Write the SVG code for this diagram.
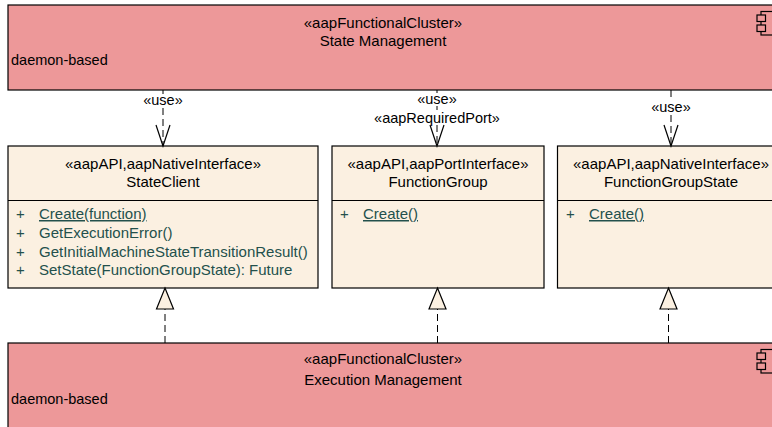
<svg xmlns="http://www.w3.org/2000/svg" width="772" height="427" viewBox="0 0 772 427">
<style>
.cl{fill:#ED9899;stroke:#000;stroke-width:1.2}
.ifc{fill:#FBF0E1;stroke:#000;stroke-width:1.2}
.sep{stroke:#000;stroke-width:1}
text{font-family:"Liberation Sans",Arial,sans-serif;font-size:15px;fill:#000}
.c{text-anchor:middle}
.sm{font-size:14.5px}
.op{fill:#23504C}
.u{text-decoration:underline}
.lbl{font-size:14.5px;text-anchor:middle}
.dash{stroke:#000;stroke-width:1;fill:none;stroke-dasharray:7,4}
.head{stroke:#000;stroke-width:1.2;fill:none}
.tri{fill:#FBF0E1;stroke:#000;stroke-width:1.2}
.icon{fill:#ED9899;stroke:#000;stroke-width:1.2}
</style>
<rect width="772" height="427" fill="#fff"/>
<g id="state-management">
<rect class="cl" x="8" y="5" width="780" height="85"/>
<text class="c" x="383" y="27.5">«aapFunctionalCluster»</text>
<text class="c" x="383" y="45.5">State Management</text>
<text class="sm" x="11" y="65">daemon-based</text>
<rect class="icon" x="761" y="11.5" width="14" height="23.5"/>
<rect class="icon" x="757" y="15" width="8.5" height="6.5"/>
<rect class="icon" x="757" y="25" width="8.5" height="6.5"/>
</g>
<g id="state-client">
<rect class="ifc" x="8" y="146" width="310" height="142"/>
<line class="sep" x1="8" y1="200.5" x2="318" y2="200.5"/>
<text class="c" x="163" y="169">«aapAPI,aapNativeInterface»</text>
<text class="c" x="163" y="187">StateClient</text>
<text class="op" x="16" y="219">+</text><text class="op u" x="39" y="219">Create(function)</text>
<text class="op" x="16" y="238">+</text><text class="op" x="39" y="238">GetExecutionError()</text>
<text class="op" x="16" y="257">+</text><text class="op" x="39" y="257">GetInitialMachineStateTransitionResult()</text>
<text class="op" x="16" y="275">+</text><text class="op" x="39" y="275">SetState(FunctionGroupState): Future</text>
</g>
<g id="function-group">
<rect class="ifc" x="332" y="146" width="212" height="142"/>
<line class="sep" x1="332" y1="200.5" x2="544" y2="200.5"/>
<text class="c" x="438" y="169">«aapAPI,aapPortInterface»</text>
<text class="c" x="438" y="187">FunctionGroup</text>
<text class="op" x="340" y="219">+</text><text class="op u" x="363" y="219">Create()</text>
</g>
<g id="function-group-state">
<rect class="ifc" x="557.5" y="146" width="230" height="142"/>
<line class="sep" x1="557.5" y1="200.5" x2="787" y2="200.5"/>
<text class="c" x="671" y="169">«aapAPI,aapNativeInterface»</text>
<text class="c" x="671" y="187">FunctionGroupState</text>
<text class="op" x="566" y="219">+</text><text class="op u" x="589" y="219">Create()</text>
</g>
<g id="execution-management">
<rect class="cl" x="8" y="343" width="780" height="100"/>
<text class="c" x="383" y="363.5">«aapFunctionalCluster»</text>
<text class="c" x="383" y="384.5">Execution Management</text>
<text class="sm" x="11" y="403.5">daemon-based</text>
<rect class="icon" x="761" y="349.5" width="14" height="23.5"/>
<rect class="icon" x="757" y="353" width="8.5" height="6.5"/>
<rect class="icon" x="757" y="363" width="8.5" height="6.5"/>
</g>
<g id="connectors">
<path class="dash" d="M163 90V94M163 108V146"/>
<path class="head" d="M156 125L163 146L170 125"/>
<text class="lbl" x="163" y="105">«use»</text>
<path class="dash" d="M437 90V93M437 106V110M437 125V146"/>
<path class="head" d="M430 125L437 146L444 125"/>
<text class="lbl" x="437" y="104">«use»</text>
<text class="lbl" x="437" y="122.5">«aapRequiredPort»</text>
<path class="dash" d="M671 90V101M671 115V146"/>
<path class="head" d="M664 125L671 146L678 125"/>
<text class="lbl" x="671" y="112">«use»</text>
<path class="dash" d="M165 343V309"/>
<path class="tri" d="M165 288L173.5 309H156.5Z"/>
<path class="dash" d="M437.5 343V309"/>
<path class="tri" d="M437.5 288L446 309H429Z"/>
<path class="dash" d="M668.5 343V309"/>
<path class="tri" d="M668.5 288L677 309H660Z"/>
</g>
</svg>
